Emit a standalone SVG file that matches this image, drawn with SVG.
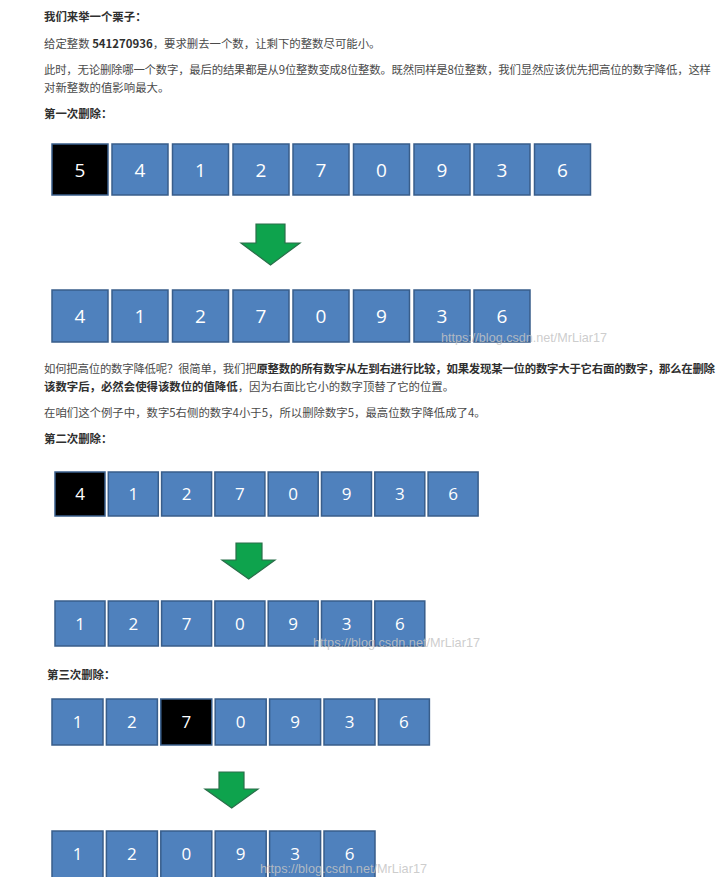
<svg xmlns="http://www.w3.org/2000/svg" width="722" height="877" viewBox="0 0 722 877">
<style>
.t{font-family:"Noto Sans CJK SC","Noto Sans",sans-serif;font-size:11.4px;fill:#4a4a4a}
.b{font-weight:bold;fill:#2f2f2f}
.box{fill:#4f81bd;stroke:#385d8a;stroke-width:1.5}
.sel{fill:#000;stroke:#385d8a;stroke-width:1.5}
.n1{font-family:"Open Sans","Liberation Sans",sans-serif;font-size:19px;fill:#fff;text-anchor:middle}
.n2{font-family:"Open Sans","Liberation Sans",sans-serif;font-size:17px;fill:#fff;text-anchor:middle}
.arr{fill:#0ea34d;stroke:#2a6f4a;stroke-width:1.2}
.wm{font-family:"Liberation Sans",Arial,sans-serif;font-size:13px;fill:#c4c4c4;fill-opacity:0.85}
</style>
<rect width="722" height="877" fill="#fff"/>

<g id="text">
<text class="t b" x="44" y="21">我们来举一个栗子：</text>
<text class="t" x="44" y="47.5">给定整数 <tspan class="b">541270936</tspan>，要求删去一个数，让剩下的整数尽可能小。</text>
<text class="t" x="44" y="74" textLength="667">此时，无论删除哪一个数字，最后的结果都是从9位整数变成8位整数。既然同样是8位整数，我们显然应该优先把高位的数字降低，这样</text>
<text class="t" x="44" y="91.5">对新整数的值影响最大。</text>
<text class="t b" x="44" y="117.5">第一次删除：</text>
<text class="t" x="44" y="373" textLength="671">如何把高位的数字降低呢？很简单，我们把<tspan class="b">原整数的所有数字从左到右进行比较，如果发现某一位的数字大于它右面的数字，那么在删除</tspan></text>
<text class="t" x="44" y="391"><tspan class="b">该数字后，必然会使得该数位的值降低</tspan>，因为右面比它小的数字顶替了它的位置。</text>
<text class="t" x="44" y="417">在咱们这个例子中，数字5右侧的数字4小于5，所以删除数字5，最高位数字降低成了4。</text>
<text class="t b" x="44" y="442.5">第二次删除：</text>
<text class="t b" x="47" y="679">第三次删除：</text>
</g>

<!-- Section 1 top row -->
<g id="s1a0"><rect class="sel" x="52" y="144" width="56" height="51"/><text class="n1" x="80" y="176.5">5</text></g>
<g id="s1a1"><rect class="box" x="112" y="144" width="56" height="51"/><text class="n1" x="140" y="176.5">4</text></g>
<g id="s1a2"><rect class="box" x="172.5" y="144" width="56" height="51"/><text class="n1" x="200.5" y="176.5">1</text></g>
<g id="s1a3"><rect class="box" x="233" y="144" width="56" height="51"/><text class="n1" x="261" y="176.5">2</text></g>
<g id="s1a4"><rect class="box" x="293" y="144" width="56" height="51"/><text class="n1" x="321" y="176.5">7</text></g>
<g id="s1a5"><rect class="box" x="353.5" y="144" width="56" height="51"/><text class="n1" x="381.5" y="176.5">0</text></g>
<g id="s1a6"><rect class="box" x="414" y="144" width="56" height="51"/><text class="n1" x="442" y="176.5">9</text></g>
<g id="s1a7"><rect class="box" x="474" y="144" width="56" height="51"/><text class="n1" x="502" y="176.5">3</text></g>
<g id="s1a8"><rect class="box" x="534.5" y="144" width="56" height="51"/><text class="n1" x="562.5" y="176.5">6</text></g>

<!-- Section 1 bottom row -->
<g id="s1b0"><rect class="box" x="52" y="290" width="56" height="52"/><text class="n1" x="80" y="323">4</text></g>
<g id="s1b1"><rect class="box" x="112" y="290" width="56" height="52"/><text class="n1" x="140" y="323">1</text></g>
<g id="s1b2"><rect class="box" x="172.5" y="290" width="56" height="52"/><text class="n1" x="200.5" y="323">2</text></g>
<g id="s1b3"><rect class="box" x="233" y="290" width="56" height="52"/><text class="n1" x="261" y="323">7</text></g>
<g id="s1b4"><rect class="box" x="293" y="290" width="56" height="52"/><text class="n1" x="321" y="323">0</text></g>
<g id="s1b5"><rect class="box" x="353.5" y="290" width="56" height="52"/><text class="n1" x="381.5" y="323">9</text></g>
<g id="s1b6"><rect class="box" x="414" y="290" width="56" height="52"/><text class="n1" x="442" y="323">3</text></g>
<g id="s1b7"><rect class="box" x="474" y="290" width="56" height="52"/><text class="n1" x="502" y="323">6</text></g>

<!-- Section 2 top row -->
<g id="s2a0"><rect class="sel" x="55" y="472" width="50" height="44"/><text class="n2" x="80" y="500">4</text></g>
<g id="s2a1"><rect class="box" x="108.3" y="472" width="50" height="44"/><text class="n2" x="133.3" y="500">1</text></g>
<g id="s2a2"><rect class="box" x="161.6" y="472" width="50" height="44"/><text class="n2" x="186.6" y="500">2</text></g>
<g id="s2a3"><rect class="box" x="214.9" y="472" width="50" height="44"/><text class="n2" x="239.9" y="500">7</text></g>
<g id="s2a4"><rect class="box" x="268.2" y="472" width="50" height="44"/><text class="n2" x="293.2" y="500">0</text></g>
<g id="s2a5"><rect class="box" x="321.5" y="472" width="50" height="44"/><text class="n2" x="346.5" y="500">9</text></g>
<g id="s2a6"><rect class="box" x="374.8" y="472" width="50" height="44"/><text class="n2" x="399.8" y="500">3</text></g>
<g id="s2a7"><rect class="box" x="428.1" y="472" width="50" height="44"/><text class="n2" x="453.1" y="500">6</text></g>

<!-- Section 2 bottom row -->
<g id="s2b0"><rect class="box" x="55" y="601" width="50" height="45"/><text class="n2" x="80" y="629.5">1</text></g>
<g id="s2b1"><rect class="box" x="108.3" y="601" width="50" height="45"/><text class="n2" x="133.3" y="629.5">2</text></g>
<g id="s2b2"><rect class="box" x="161.6" y="601" width="50" height="45"/><text class="n2" x="186.6" y="629.5">7</text></g>
<g id="s2b3"><rect class="box" x="214.9" y="601" width="50" height="45"/><text class="n2" x="239.9" y="629.5">0</text></g>
<g id="s2b4"><rect class="box" x="268.2" y="601" width="50" height="45"/><text class="n2" x="293.2" y="629.5">9</text></g>
<g id="s2b5"><rect class="box" x="321.5" y="601" width="50" height="45"/><text class="n2" x="346.5" y="629.5">3</text></g>
<g id="s2b6"><rect class="box" x="374.8" y="601" width="50" height="45"/><text class="n2" x="399.8" y="629.5">6</text></g>

<!-- Section 3 top row -->
<g id="s3a0"><rect class="box" x="52" y="699" width="51" height="46"/><text class="n2" x="77.5" y="728">1</text></g>
<g id="s3a1"><rect class="box" x="106.4" y="699" width="51" height="46"/><text class="n2" x="131.9" y="728">2</text></g>
<g id="s3a2"><rect class="sel" x="160.8" y="699" width="51" height="46"/><text class="n2" x="186.3" y="728">7</text></g>
<g id="s3a3"><rect class="box" x="215.2" y="699" width="51" height="46"/><text class="n2" x="240.7" y="728">0</text></g>
<g id="s3a4"><rect class="box" x="269.6" y="699" width="51" height="46"/><text class="n2" x="295.1" y="728">9</text></g>
<g id="s3a5"><rect class="box" x="324" y="699" width="51" height="46"/><text class="n2" x="349.5" y="728">3</text></g>
<g id="s3a6"><rect class="box" x="378.4" y="699" width="51" height="46"/><text class="n2" x="403.9" y="728">6</text></g>

<!-- Section 3 bottom row -->
<g id="s3b0"><rect class="box" x="52" y="831" width="51" height="48"/><text class="n2" x="77.5" y="860">1</text></g>
<g id="s3b1"><rect class="box" x="106.4" y="831" width="51" height="48"/><text class="n2" x="131.9" y="860">2</text></g>
<g id="s3b2"><rect class="box" x="160.8" y="831" width="51" height="48"/><text class="n2" x="186.3" y="860">0</text></g>
<g id="s3b3"><rect class="box" x="215.2" y="831" width="51" height="48"/><text class="n2" x="240.7" y="860">9</text></g>
<g id="s3b4"><rect class="box" x="269.6" y="831" width="51" height="48"/><text class="n2" x="295.1" y="860">3</text></g>
<g id="s3b5"><rect class="box" x="324" y="831" width="51" height="48"/><text class="n2" x="349.5" y="860">6</text></g>

<g id="connectors">
<polygon class="arr" points="256,224 285,224 285,243 300,243 270.5,265 241,243 256,243"/>
<polygon class="arr" points="236,543 262,543 262,560 275,560 248.7,579 222,560 236,560"/>
<polygon class="arr" points="219,772 244,772 244,789 258,789 231.7,808 205,789 219,789"/>
</g>

<g id="watermarks">
<text class="wm" x="441" y="342" textLength="166" lengthAdjust="spacingAndGlyphs">https://blog.csdn.net/MrLiar17</text>
<text class="wm" x="313" y="647" textLength="167" lengthAdjust="spacingAndGlyphs">https://blog.csdn.net/MrLiar17</text>
<text class="wm" x="260" y="873" textLength="167" lengthAdjust="spacingAndGlyphs">https://blog.csdn.net/MrLiar17</text>
</g>
</svg>
